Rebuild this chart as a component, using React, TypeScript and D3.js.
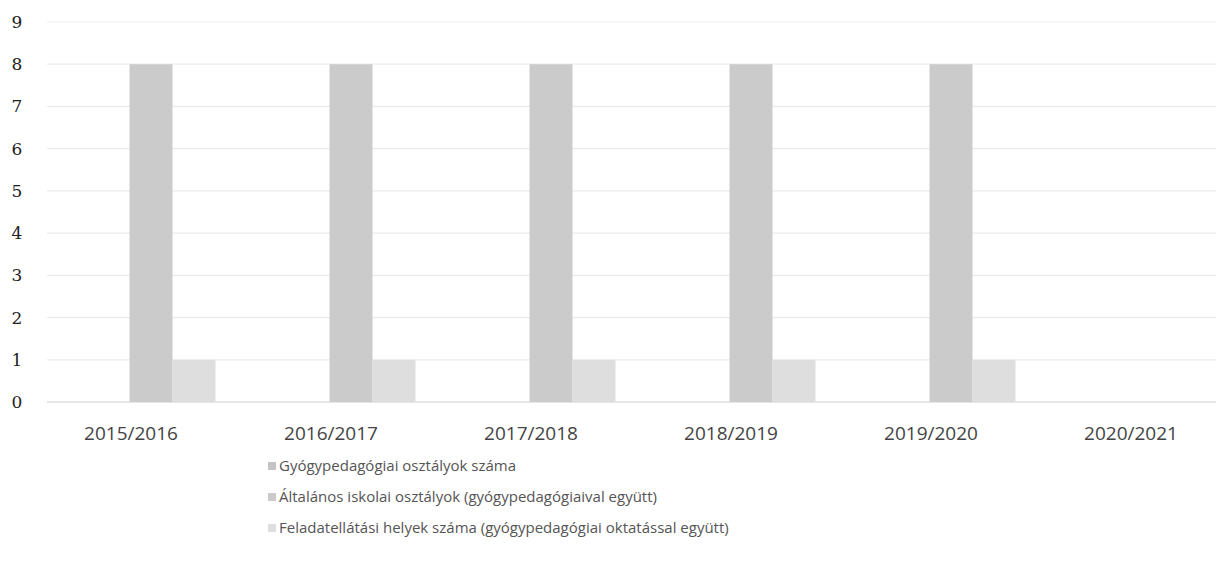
import React from "react";
import * as d3 from "d3";

const categories = ["2015/2016", "2016/2017", "2017/2018", "2018/2019", "2019/2020", "2020/2021"];
const seriesNames = [
  "Gyógypedagógiai osztályok száma",
  "Általános iskolai osztályok (gyógypedagógiaival együtt)",
  "Feladatellátási helyek száma (gyógypedagógiai oktatással együtt)",
];
const gyogyValues = [0, 0, 0, 0, 0, 0];
const altalanosValues = [8, 8, 8, 8, 8, 0];
const feladatValues = [1, 1, 1, 1, 1, 0];
const yTicks = [0, 1, 2, 3, 4, 5, 6, 7, 8, 9];

const seriesValues = [gyogyValues, altalanosValues, feladatValues];
const colors = ["#c4c4c4", "#cbcbcb", "#dedede"];

export default function App() {
  const W = 1216;
  const H = 569;
  const x0 = d3.scaleBand<string>().domain(categories).range([51, 1251]).paddingInner(0).paddingOuter(0);
  const x1 = d3
    .scaleBand<string>()
    .domain(seriesNames)
    .range([0, x0.bandwidth()])
    .paddingInner(0)
    .paddingOuter(0.826);
  const y = d3.scaleLinear().domain([0, 9]).range([402, 22]);

  return (
    <svg
      width={W}
      height={H}
      style={{ position: "absolute", left: 0, top: 0, background: "#fff" }}
    >
      <rect x={0} y={0} width={W} height={H} fill="#fff" />
      {yTicks.map((t) => (
        <line
          key={"g" + t}
          x1={47}
          x2={W}
          y1={y(t)}
          y2={y(t)}
          stroke={t === 0 ? "#dcdcdc" : "#ececec"}
          strokeWidth={t === 0 ? 1.5 : 1.2}
        />
      ))}
      {yTicks.map((t) => (
        <text
          key={"yl" + t}
          x={17}
          y={y(t)}
          dy="0.35em"
          textAnchor="middle"
          fontFamily="DejaVu Serif, serif"
          fontSize={17}
          fill="#222"
        >
          {t}
        </text>
      ))}
      {categories.map((c, ci) => (
        <g key={c} transform={`translate(${x0(c)},0)`}>
          {seriesNames.map((s, si) => {
            const v = seriesValues[si][ci];
            if (v <= 0) return null;
            return (
              <rect
                key={s}
                x={x1(s)}
                y={y(v)}
                width={x1.bandwidth()}
                height={y(0) - y(v)}
                fill={colors[si]}
              />
            );
          })}
        </g>
      ))}
      {categories.map((c) => (
        <text
          key={"xl" + c}
          x={(x0(c) as number) + x0.bandwidth() / 2 - 20}
          y={433}
          dy="0.35em"
          textAnchor="middle"
          fontFamily="Open Sans, sans-serif"
          fontSize={19}
          fill="#444"
        >
          {c}
        </text>
      ))}
      {seriesNames.map((s, i) => (
        <g key={"lg" + s} transform={`translate(268, ${466 + i * 31})`}>
          <rect x={0} y={-4} width={8} height={8} fill={colors[i]} />
          <text
            x={11}
            y={0}
            dy="0.35em"
            fontFamily="Open Sans, sans-serif"
            fontSize={15}
            fill="#555"
          >
            {s}
          </text>
        </g>
      ))}
    </svg>
  );
}
